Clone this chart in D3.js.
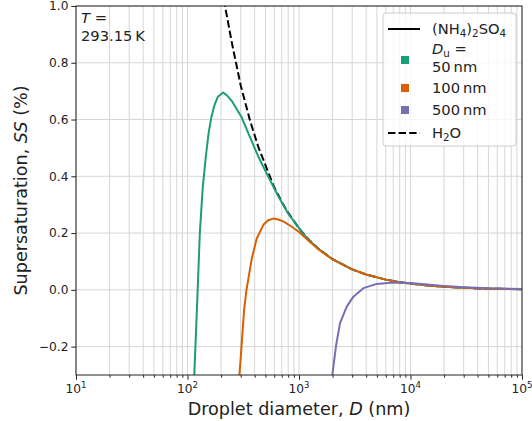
<!DOCTYPE html>
<html>
<head>
<meta charset="utf-8">
<script src="https://cdn.jsdelivr.net/npm/d3@7"></script>
<style>
  body { margin: 0; background: #fff; }
  svg { font-family: "DejaVu Sans", sans-serif; }
</style>
</head>
<body>
<svg id="chart" width="532" height="421"></svg>
<script>
// values: [droplet diameter (nm), supersaturation (%)]
var seriesH2O = [[205,1.06],[217,1.0],[250,0.87],[300,0.72],[364,0.596],[432,0.503],[589,0.368],[700,0.31],
  [800,0.271],[1000,0.217],[1200,0.18],[1500,0.144],[2000,0.108],[3000,0.072],[4000,0.054],[6000,0.036],
  [8000,0.027],[10000,0.022],[15000,0.0145],[20000,0.011],[30000,0.0072],[50000,0.0043],[100000,0.0022]];
var series50 = [[115,-0.30],[122,-0.05],[129,0.20],[137,0.36],[146,0.47],[155,0.555],[164,0.61],[175,0.652],
  [187,0.68],[209,0.695],[226,0.685],[249,0.666],[306,0.608],[351,0.552],[432,0.469],[531,0.398],[652,0.33],
  [802,0.268],[1020,0.213],[1200,0.179],[1500,0.144],[2000,0.108],[3000,0.072],[4000,0.054],
  [6000,0.036],[8000,0.027],[10000,0.022],[15000,0.0145],[20000,0.011],[30000,0.0072],[50000,0.0043],[100000,0.0022]];
var series100 = [[292,-0.30],[300,-0.24],[310,-0.16],[322,-0.07],[338,0.0],[377,0.11],[417,0.18],[479,0.229],
  [530,0.245],[589,0.251],[650,0.248],[723,0.241],[850,0.224],[1000,0.204],[1200,0.176],[1500,0.142],
  [2000,0.107],[3000,0.072],[4000,0.054],[6000,0.036],[8000,0.027],[10000,0.022],[15000,0.0145],
  [20000,0.011],[30000,0.0072],[50000,0.0043],[100000,0.0022]];
var series500 = [[1990,-0.30],[2148,-0.197],[2333,-0.117],[2680,-0.059],[3075,-0.024],[3780,0.006],
  [4980,0.021],[7010,0.026],[9910,0.024],[15000,0.018],[20000,0.014],[30000,0.0095],[50000,0.0055],[100000,0.0028]];

var dryLabels = ["50 nm", "100 nm", "500 nm"];
var dryColors = ["#1b9e77", "#d95f02", "#7570b3"];
var yTicks = [-0.2, 0.0, 0.2, 0.4, 0.6, 0.8, 1.0];
var xDecades = [1, 2, 3, 4, 5];

var svg = d3.select("#chart");
var pLeft = 76, pRight = 522, pTop = 6, pBottom = 375;

var xScale = d3.scaleLog().domain([10, 1e5]).range([pLeft, pRight]);
var yScale = d3.scaleLinear().domain([-0.3, 1.0]).range([pBottom, pTop]);

// minor ticks 2..9 per decade
var xMinor = [];
for (var k = 1; k < 5; k++) {
  for (var m = 2; m < 10; m++) xMinor.push(m * Math.pow(10, k));
}
var xMajor = xDecades.map(function (e) { return Math.pow(10, e); });

svg.append("defs").append("clipPath").attr("id", "plotclip")
  .append("rect").attr("x", pLeft).attr("y", pTop).attr("width", pRight - pLeft).attr("height", pBottom - pTop);

// grid
var grid = svg.append("g").attr("stroke", "#d6d6d6").attr("stroke-width", 1);
xMinor.concat(xMajor).forEach(function (v) {
  grid.append("line").attr("x1", xScale(v)).attr("x2", xScale(v)).attr("y1", pTop).attr("y2", pBottom);
});
yTicks.forEach(function (v) {
  grid.append("line").attr("x1", pLeft).attr("x2", pRight).attr("y1", yScale(v)).attr("y2", yScale(v));
});

var line = d3.line()
  .x(function (d) { return xScale(d[0]); })
  .y(function (d) { return yScale(d[1]); });

var plot = svg.append("g").attr("clip-path", "url(#plotclip)");
plot.append("path").datum(seriesH2O)
  .attr("d", line).attr("fill", "none").attr("stroke", "#000")
  .attr("stroke-width", 2).attr("stroke-dasharray", "7.4,3.2");
[series50, series100, series500].forEach(function (s, i) {
  plot.append("path").datum(s)
    .attr("d", line).attr("fill", "none").attr("stroke", dryColors[i])
    .attr("stroke-width", 2).attr("stroke-linejoin", "round");
});

// axes
var xAxis = d3.axisBottom(xScale).tickValues(xMajor).tickSize(4.7).tickFormat("");
var xAxisMinor = d3.axisBottom(xScale).tickValues(xMinor).tickSize(2.7).tickFormat("");
var yAxis = d3.axisLeft(yScale).tickValues(yTicks).tickSize(4.7)
  .tickFormat(function (d) { return d3.format(".1f")(d).replace("-", "\u2212"); });

svg.append("g").attr("transform", "translate(0," + pBottom + ")").call(xAxis);
svg.append("g").attr("transform", "translate(0," + pBottom + ")").call(xAxisMinor);
var gy = svg.append("g").attr("transform", "translate(" + pLeft + ",0)").call(yAxis);
svg.selectAll(".domain").remove();
svg.selectAll(".tick line").attr("stroke", "#222").attr("stroke-width", 1);
gy.selectAll("text").attr("font-size", "12.2px").attr("fill", "#222").attr("x", -7.5)
  .attr("font-family", "DejaVu Sans");

// x tick labels with superscripts
xDecades.forEach(function (e) {
  var t = svg.append("text").attr("x", xScale(Math.pow(10, e))).attr("y", 393)
    .attr("text-anchor", "middle").attr("font-size", "12.2px").attr("fill", "#222");
  t.append("tspan").text("10");
  t.append("tspan").attr("dy", -5).attr("font-size", "8.6px").text(e);
});

// frame
svg.append("rect").attr("x", pLeft).attr("y", pTop).attr("width", pRight - pLeft).attr("height", pBottom - pTop)
  .attr("fill", "none").attr("stroke", "#222").attr("stroke-width", 1);

// axis labels
var xl = svg.append("text").attr("x", (pLeft + pRight) / 2).attr("y", 415)
  .attr("text-anchor", "middle").attr("font-size", "17.6px").attr("fill", "#222");
xl.append("tspan").text("Droplet diameter, ");
xl.append("tspan").attr("font-style", "italic").text("D");
xl.append("tspan").text(" (nm)");

var yl = svg.append("text").attr("transform", "translate(27," + (pTop + pBottom) / 2 + ") rotate(-90)")
  .attr("text-anchor", "middle").attr("font-size", "17.6px").attr("fill", "#222");
yl.append("tspan").text("Supersaturation, ");
yl.append("tspan").attr("font-style", "italic").text("SS");
yl.append("tspan").text(" (%)");

// temperature annotation
var tt = svg.append("text").attr("x", 81).attr("y", 23).attr("font-size", "14.7px").attr("fill", "#222");
tt.append("tspan").attr("font-style", "italic").text("T");
tt.append("tspan").text(" =");
svg.append("text").attr("x", 81).attr("y", 41).attr("font-size", "14.7px").attr("fill", "#222")
  .text("293.15\u2009K");

// legend
var lg = svg.append("g");
lg.append("rect").attr("x", 383).attr("y", 13).attr("width", 133).attr("height", 133).attr("rx", 3)
  .attr("fill", "#fff").attr("fill-opacity", 0.8).attr("stroke", "#ccc").attr("stroke-width", 1);
lg.append("line").attr("x1", 388).attr("x2", 420).attr("y1", 29).attr("y2", 29)
  .attr("stroke", "#000").attr("stroke-width", 2);
var t1 = lg.append("text").attr("x", 432).attr("y", 34).attr("font-size", "14.7px").attr("fill", "#222");
t1.append("tspan").text("(NH");
t1.append("tspan").attr("dy", 3).attr("font-size", "10.3px").text("4");
t1.append("tspan").attr("dy", -3).text(")");
t1.append("tspan").attr("dy", 3).attr("font-size", "10.3px").text("2");
t1.append("tspan").attr("dy", -3).text("SO");
t1.append("tspan").attr("dy", 3).attr("font-size", "10.3px").text("4");

var t2 = lg.append("text").attr("x", 432).attr("y", 54).attr("font-size", "14.7px").attr("fill", "#222");
t2.append("tspan").attr("font-style", "italic").text("D");
t2.append("tspan").attr("dy", 2.5).attr("font-size", "10.3px").text("u");
t2.append("tspan").attr("dy", -2.5).text(" =");

var rowY = [60, 88, 110];
var textY = [72, 93, 115];
dryLabels.forEach(function (lab, i) {
  lg.append("rect").attr("x", 401).attr("y", rowY[i] - 4).attr("width", 8).attr("height", 8)
    .attr("fill", dryColors[i]);
  lg.append("text").attr("x", 432).attr("y", textY[i]).attr("font-size", "14.7px").attr("fill", "#222")
    .text(lab.replace(" ", "\u2009"));
});

lg.append("line").attr("x1", 388).attr("x2", 420).attr("y1", 133).attr("y2", 133)
  .attr("stroke", "#000").attr("stroke-width", 2).attr("stroke-dasharray", "7.4,3.2");
var t3 = lg.append("text").attr("x", 432).attr("y", 138).attr("font-size", "14.7px").attr("fill", "#222");
t3.append("tspan").text("H");
t3.append("tspan").attr("dy", 3).attr("font-size", "10.3px").text("2");
t3.append("tspan").attr("dy", -3).text("O");
</script>
</body>
</html>
